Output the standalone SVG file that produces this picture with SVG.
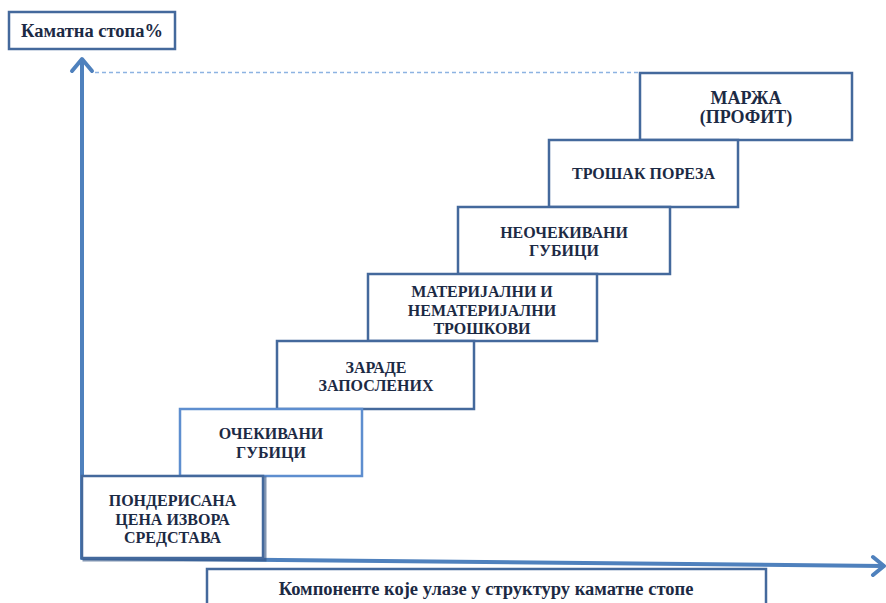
<svg xmlns="http://www.w3.org/2000/svg" width="886" height="603" viewBox="0 0 886 603">
<style>
.box{fill:#fff;stroke:#44699c;stroke-width:2.5}
.light{stroke:#5e8ecf}
.t{font-family:"Liberation Serif","Times New Roman",serif;font-weight:bold;font-size:16px;fill:#1c2a44;text-anchor:middle}
.axis{stroke:#4f81bd;stroke-width:4;fill:none;stroke-linecap:round;stroke-linejoin:round}
</style>
<rect width="886" height="603" fill="#fff"/>
<g id="connectors">
<line x1="95" y1="72.5" x2="640" y2="72.5" stroke="#8db3e2" stroke-width="1.5" stroke-dasharray="4,3"/>
<line class="axis" x1="82" y1="558" x2="82" y2="60"/>
<polyline class="axis" points="72,71 82,59 92,71"/>
<line class="axis" x1="82" y1="558" x2="883" y2="566"/>
<polyline class="axis" points="873,557 884,566 873,575"/>
</g>
<g id="title">
<rect class="box" x="9" y="12" width="166" height="37" stroke="#3f6597"/>
<text class="t" x="92" y="37" style="font-size:18.5px">Каматна стопа%</text>
</g>
<g id="n7">
<rect class="box" x="640" y="73" width="212" height="67"/>
<text class="t" x="746" y="104" style="font-size:18px">МАРЖА</text>
<text class="t" x="746" y="123" style="font-size:18px">(ПРОФИТ)</text>
</g>
<g id="n6">
<rect class="box" x="549" y="140" width="189" height="67"/>
<text class="t" x="643.5" y="179">ТРОШАК ПОРЕЗА</text>
</g>
<g id="n5">
<rect class="box" x="458" y="207" width="212" height="67"/>
<text class="t" x="564" y="238">НЕОЧЕКИВАНИ</text>
<text class="t" x="564" y="256">ГУБИЦИ</text>
</g>
<g id="n4">
<rect class="box" x="368" y="274" width="229" height="67"/>
<text class="t" x="482" y="297">МАТЕРИЈАЛНИ И</text>
<text class="t" x="482" y="316">НЕМАТЕРИЈАЛНИ</text>
<text class="t" x="482" y="334">ТРОШКОВИ</text>
</g>
<g id="n3">
<rect class="box" x="277" y="341" width="197" height="68"/>
<text class="t" x="376" y="373">ЗАРАДЕ</text>
<text class="t" x="376" y="391">ЗАПОСЛЕНИХ</text>
</g>
<g id="n2">
<rect class="box light" x="180" y="409" width="182" height="67"/>
<text class="t" x="271" y="439">ОЧЕКИВАНИ</text>
<text class="t" x="271" y="458">ГУБИЦИ</text>
</g>
<g id="n1">
<rect x="84" y="478" width="181" height="82" fill="none" stroke="#2f5080" stroke-width="3" opacity="0.6"/>
<rect class="box" x="82" y="476" width="181" height="82" stroke-width="3"/>
<text class="t" x="172.5" y="506">ПОНДЕРИСАНА</text>
<text class="t" x="172.5" y="525">ЦЕНА ИЗВОРА</text>
<text class="t" x="172.5" y="543">СРЕДСТАВА</text>
</g>
<g id="xlabel">
<rect class="box" x="207" y="569" width="559" height="40" stroke-width="2"/>
<text class="t" x="486" y="595" style="font-size:18.5px">Компоненте које улазе у структуру каматне стопе</text>
</g>
</svg>
